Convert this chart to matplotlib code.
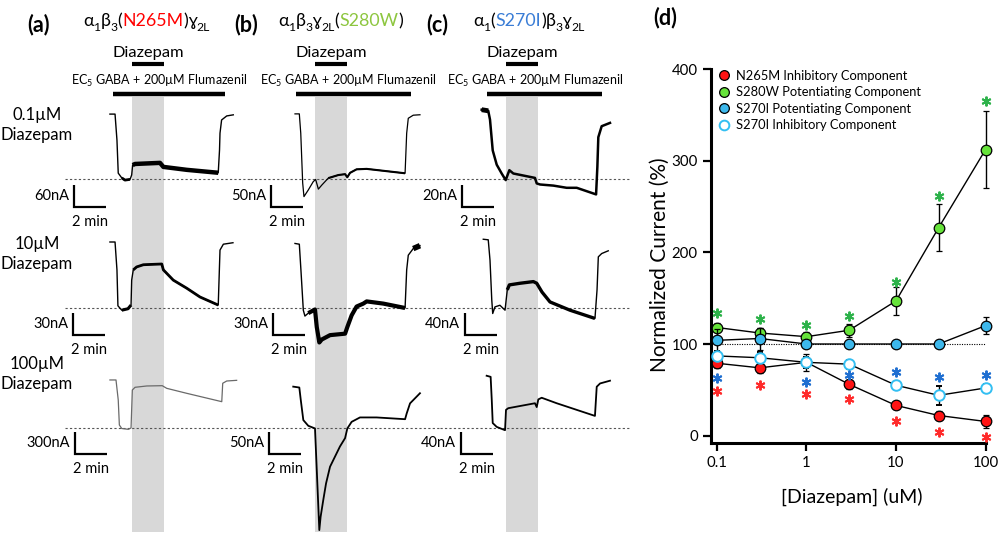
import matplotlib
matplotlib.use('Agg')
import matplotlib.pyplot as plt
import numpy as np
from matplotlib.lines import Line2D
from matplotlib.ticker import NullLocator

FONT = ['Lato', 'DejaVu Sans']
plt.rcParams['font.family'] = FONT
plt.rcParams['mathtext.fontset'] = 'custom'
plt.rcParams['mathtext.rm'] = 'Lato'
plt.rcParams['mathtext.it'] = 'Lato:italic'
plt.rcParams['mathtext.bf'] = 'Lato:bold'

# ---------------------------------------------------------------- data
# panels (a)-(c): time in min relative to diazepam onset, current in nA
# relative to the EC5 GABA baseline (dotted line)
DIAZ_ON, DIAZ_OFF = 0.0, 2.0
FLUMA = [(-1.2, 5.8), (-1.2, 6.0), (-1.2, 6.0)]
SCALE_MIN = 2
SCALE_NA = [[60, 30, 300], [50, 30, 50], [20, 40, 40]]
PANEL_LABELS = ['(a)', '(b)', '(c)']
ROW_LABELS = ['0.1µM\nDiazepam', '10µM\nDiazepam', '100µM\nDiazepam']

a1_t = [-1.38, -1.06, -0.94, -0.86, -0.64, -0.44, -0.12, -0.02, 0.04, 0.19, 1.75, 1.96, 3.42, 5.39, 5.47, 5.5, 5.6, 5.92, 6.33]
a1_i = [177, 177, 106, 16, 3, -3, -1, 11, 38, 41, 44, 33, 25, 17, 79, 125, 161, 172, 175]
a2_t = [-1.38, -1.06, -0.94, -0.88, -0.64, -0.25, -0.06, -0.02, 0.08, 0.29, 0.71, 1.86, 1.96, 2.58, 3.42, 4.25, 5.39, 5.46, 5.5, 5.71, 6.31]
a2_i = [90, 90, 52, 3, -3, -1, 4, 38, 52, 56, 59, 60, 52, 38, 27, 15, 4, 52, 79, 87, 89]
a3_t = [-1.38, -1.0, -0.86, -0.79, -0.64, -0.23, -0.06, 0.02, 0.19, 0.92, 1.89, 2.17, 3.42, 5.61, 5.67, 5.92, 6.54]
a3_i = [655, 655, 382, 41, -7, -18, 0, 518, 555, 573, 577, 541, 473, 359, 610, 641, 650]

b1_t = [-1.25, -0.98, -0.89, -0.77, -0.69, -0.42, -0.11, 0.04, 0.21, 0.42, 0.83, 1.46, 1.88, 2.02, 2.19, 2.6, 3.23, 5.63, 5.73, 5.83, 6.14, 6.56]
b1_i = [148, 148, 104, -9, -40, -25, -6, -1, -23, -14, 2, 9, 11, 4, 14, 22, 23, 13, 104, 138, 145, 146]
b2_t = [-1.25, -0.98, -0.88, -0.73, -0.63, -0.42, 0.0, 0.11, 0.27, 0.42, 0.94, 1.88, 2.02, 2.29, 2.6, 3.02, 3.23, 4.27, 5.63, 5.73, 5.83, 6.14, 6.56]
b2_i = [88, 87, 52, -3, -11, -7, -2, -26, -47, -43, -37, -35, -26, -10, 2, 6, 9, 6, 0, 52, 72, 81, 85]
b3_t = [-1.36, -0.98, -0.89, -0.73, -0.42, 0.0, 0.27, 0.35, 0.52, 0.69, 0.94, 1.25, 1.56, 1.88, 2.02, 2.29, 2.81, 3.85, 5.63, 5.73, 5.94, 6.56]
b3_i = [94, 92, 64, 18, 5, -1, -232, -202, -163, -126, -88, -65, -42, -23, -1, 14, 24, 24, 20, 33, 56, 79]

c1_t = [-1.52, -1.11, -1.0, -0.83, -0.58, -0.27, -0.02, 0.21, 0.46, 1.81, 1.92, 2.13, 2.96, 3.79, 4.42, 5.63, 5.71, 5.77, 5.98, 6.5]
c1_i = [63, 62, 54, 26, 13, 5, -1, 8, 5, 1, -4, -5, -6, -8, -8, -14, 11, 38, 48, 51]
c2_t = [-1.42, -1.11, -1.0, -0.89, -0.83, -0.69, -0.38, -0.06, 0.08, 0.21, 0.88, 1.71, 1.92, 2.25, 2.75, 4.0, 5.56, 5.69, 5.77, 5.98, 6.39]
c2_i = [125, 124, 87, 15, -10, 2, 5, -4, 33, 42, 45, 48, 45, 29, 11, -4, -19, 33, 93, 99, 104]
c3_t = [-1.21, -0.96, -0.89, -0.83, -0.58, -0.06, 0.0, 0.14, 0.88, 1.81, 1.92, 2.02, 2.23, 3.17, 5.56, 5.67, 5.88, 6.5]
c3_i = [95, 93, 51, 9, 2, -4, 33, 36, 40, 45, 38, 52, 55, 45, 22, 75, 81, 86]

# panel (d)
conc = [0.1, 0.3, 1, 3, 10, 30, 100]
n265m_mean = [79, 74, 80, 56, 33, 22, 15.5]
n265m_err = [5, 6, 9, 5, 4, 5, 7]
s280w_mean = [118, 112, 108, 115, 147, 227, 312]
s280w_err = [5, 6, 5, 7, 15, 26, 42]
s270i_pot_mean = [104, 106, 100, 100, 100, 100, 120]
s270i_pot_err = [12, 12, 3, 3, 2, 2, 9]
s270i_inh_mean = [87, 85, 80, 78, 55, 44, 52]
s270i_inh_err = [5, 6, 6, 5, 4, 10, 4]
sig_s280w = [134, 127, 121, 131, 168, 261, 365]
sig_s270i = [63, np.nan, 59, 66, 69.5, 64, 66.6]
sig_n265m = [49, 55, 45.5, 40, 15.5, 4.4, -1.3]
legend_labels = ['N265M Inhibitory Component', 'S280W Potentiating Component',
                 'S270I Potentiating Component', 'S270I Inhibitory Component']

# ---------------------------------------------------------------- layout
W, H = 1000, 536
fig = plt.figure(figsize=(10, 5.36), dpi=100)


def px_axes(l, t, r, b):
    ax = fig.add_axes([l / W, 1 - b / H, (r - l) / W, (b - t) / H])
    ax.set_axis_off()
    ax.patch.set_alpha(0)
    return ax


ov = px_axes(0, 0, W, H)
ov.set_xlim(0, W)
ov.set_ylim(H, 0)

renderer = fig.canvas.get_renderer()


def rich(x, y, pieces, size, ha='left'):
    """pieces: (text, color, is_subscript); x,y pixel, y = baseline."""
    items = []
    total = 0
    for txt, col, sub in pieces:
        fs = size * 0.68 if sub else size
        t = fig.text(0, 0, txt, color=col, fontsize=fs, va='baseline', ha='left', family=FONT)
        w = t.get_window_extent(renderer=renderer).width
        items.append((t, sub, w))
        total += w
    cx = x - total / 2 if ha == 'center' else x
    for t, sub, w in items:
        yy = y + (size * 0.28 * 100 / 72 if sub else 0)
        t.set_position((cx / W, 1 - yy / H))
        cx += w


PXMIN = 16.0          # pixels per minute
SCALE_PX = 22.0       # pixel length of vertical scale bars
X0 = [132, 315, 506]  # pixel of diazepam onset
COL = [(65, 250), (250, 440), (440, 630)]
YBASE = [179, 308, 428]
SB = [[(74, 207), (73, 335), (75, 454)],
      [(271, 207), (273, 335), (269, 454)],
      [(462, 207), (465, 335), (461, 454)]]
GRAY = '#D8D8D8'

traces = [[(a1_t, a1_i), (a2_t, a2_i), (a3_t, a3_i)],
          [(b1_t, b1_i), (b2_t, b2_i), (b3_t, b3_i)],
          [(c1_t, c1_i), (c2_t, c2_i), (c3_t, c3_i)]]
styles = [[(1.0, 'k', [(-0.7, -0.05, 2.0), (0.04, 5.39, 3.2)]),
           (1.0, 'k', [(-0.7, -0.05, 2.2), (0.0, 5.39, 2.0)]),
           (0.9, '#6a6a6a', [])],
          [(0.9, 'k', [(0.8, 5.63, 1.5)]),
           (1.0, 'k', [(-0.5, 5.63, 3.0), (5.9, 6.6, 4.0)]),
           (1.3, 'k', [])],
          [(1.8, 'k', [(-1.6, -1.1, 3.5)]),
           (1.0, 'k', [(0.0, 5.56, 2.4)]),
           (1.3, 'k', [])]]

TITLE_X = [83, 278, 473]
TITLE_PIECES = [
    [('α', 'k', False), ('1', 'k', True), ('β', 'k', False), ('3', 'k', True), ('(', 'k', False),
     ('N265M', '#FF0000', False), (')', 'k', False), ('ɣ', 'k', False), ('2L', 'k', True)],
    [('α', 'k', False), ('1', 'k', True), ('β', 'k', False), ('3', 'k', True), ('ɣ', 'k', False),
     ('2L', 'k', True), ('(', 'k', False), ('S280W', '#8DC63F', False), (')', 'k', False)],
    [('α', 'k', False), ('1', 'k', True), ('(', 'k', False), ('S270I', '#3A7DD6', False), (')', 'k', False),
     ('β', 'k', False), ('3', 'k', True), ('ɣ', 'k', False), ('2L', 'k', True)],
]
PANEL_X = [39, 246, 437]
EC_X = [159, 348, 535]

for p in range(3):
    l, r = COL[p]
    x0 = X0[p]
    xl = ((l - x0) / PXMIN, (r - x0) / PXMIN)
    col = px_axes(l, 0, r, H)
    col.set_xlim(*xl)
    col.set_ylim(0, 1)
    col.axvspan(DIAZ_ON, DIAZ_OFF, ymin=1 - 532 / H, ymax=1 - 97 / H, color=GRAY, lw=0)
    col.plot([DIAZ_ON, DIAZ_OFF], [1 - 64 / H] * 2, color='k', lw=3, solid_capstyle='butt')
    col.plot(list(FLUMA[p]), [1 - 94 / H] * 2, color='k', lw=3.2, solid_capstyle='butt')
    col.text((DIAZ_ON + DIAZ_OFF) / 2, 1 - 53 / H, 'Diazepam', ha='center', va='center', fontsize=11.8)

    ov.text(PANEL_X[p], 31, PANEL_LABELS[p], ha='center', va='baseline', fontsize=15.5, fontweight='bold')
    rich(TITLE_X[p], 26, TITLE_PIECES[p], 12.8)
    ov.text(EC_X[p], 85, r'EC$_5$ GABA + 200µM Flumazenil', ha='center', va='baseline', fontsize=9.0)

    for row in range(3):
        ax = px_axes(l, 0, r, H)
        k = SCALE_PX / SCALE_NA[p][row]
        yb = YBASE[row]
        ax.set_xlim(*xl)
        ax.set_ylim((yb - H) / k, yb / k)
        ax.axhline(0, color='#555555', lw=0.8, ls=(0, (2, 2)))
        t, cur = traces[p][row]
        lw, c, thick = styles[p][row]
        ax.plot(t, cur, color=c, lw=lw, solid_joinstyle='round')
        tt = np.array(t)
        ii = np.array(cur)
        for t0, t1, lw2 in thick:
            m = (tt >= t0) & (tt <= t1)
            ax.plot(tt[m], ii[m], color=c, lw=lw2, solid_capstyle='butt')
        # scale bar
        sx, sy = SB[p][row]
        tx = (sx - x0) / PXMIN
        iy = (yb - sy) / k
        ax.plot([tx, tx, tx + SCALE_MIN], [iy + SCALE_NA[p][row], iy, iy], color='k', lw=1.6,
                solid_joinstyle='miter', solid_capstyle='butt')
        ov.text(sx - 5, sy - SCALE_PX / 2, f'{SCALE_NA[p][row]}nA', ha='right', va='center', fontsize=10.5)
        ov.text(sx + 16, sy + 15, f'{SCALE_MIN} min', ha='center', va='center', fontsize=10.5)

for row in range(3):
    ov.text(37, YBASE[row] - 54, ROW_LABELS[row], ha='center', va='center', fontsize=12, linespacing=1.25)

# ---------------------------------------------------------------- panel d
RED, GREEN, BLUE, OPEN = '#FF1414', '#66E33A', '#3DB8EC', '#33BFF2'
axd = fig.add_axes([711 / W, 1 - 443 / H, (985.5 - 711) / W, (443 - 69) / H])
axd.set_xscale('log')
axd.set_xlim(0.0857, 100)
axd.set_ylim(-8, 400)
axd.patch.set_alpha(0)
for s in ['top', 'right']:
    axd.spines[s].set_visible(False)
for s in ['left', 'bottom']:
    axd.spines[s].set_linewidth(2.2)
axd.set_xticks([0.1, 1, 10, 100])
axd.set_xticklabels(['0.1', '1', '10', '100'])
axd.xaxis.set_minor_locator(NullLocator())
axd.set_yticks([0, 100, 200, 300, 400])
axd.tick_params(length=5.5, width=1.6, labelsize=10.8, pad=4)
axd.plot([conc[0], conc[-1]], [100, 100], color='k', lw=0.8, ls=(0, (1, 1.2)), zorder=1)

series = [(n265m_mean, n265m_err, RED, 'k', 0.9),
          (s280w_mean, s280w_err, GREEN, 'k', 0.9),
          (s270i_pot_mean, s270i_pot_err, BLUE, 'k', 0.9),
          (s270i_inh_mean, s270i_inh_err, 'white', OPEN, 1.4)]
for z, (m, e, fc, ec, mew) in enumerate(series):
    axd.errorbar(conc, m, yerr=e, fmt='-o', color='k', lw=1, ms=7.6, mfc=fc, mec=ec, mew=mew,
                 capsize=2.5, elinewidth=1, capthick=1, clip_on=False, zorder=3 + z)
for vals, c in [(sig_s280w, '#2DB24A'), (sig_s270i, '#1F6FD1'), (sig_n265m, '#FF2A2A')]:
    axd.plot(conc, vals, ls='', marker=(6, 2, 0), ms=7, mew=1.4, color=c, clip_on=False, zorder=8)

handles = [Line2D([], [], ls='', marker='o', ms=7, mfc=fc, mec=ec, mew=mew)
           for (_, _, fc, ec, mew) in series]
fig.legend(handles, legend_labels, loc='upper left', bbox_to_anchor=(719 / W, 1 - 70 / H),
           frameon=False, fontsize=9.3, handlelength=0.8, handletextpad=0.5, labelspacing=0.34,
           borderpad=0, borderaxespad=0)

ov.text(665, 24, '(d)', ha='center', va='baseline', fontsize=15.5, fontweight='bold')
ov.text(660, 265, 'Normalized Current (%)', rotation=90, ha='center', va='center', fontsize=15)
ov.text(852, 497, '[Diazepam] (uM)', ha='center', va='center', fontsize=14)

fig.savefig('out.png', dpi=100)
